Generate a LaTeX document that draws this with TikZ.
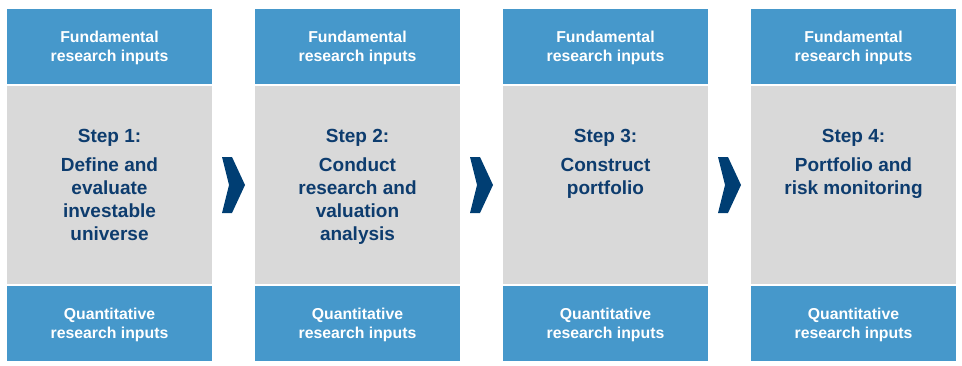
\documentclass[tikz,border=0pt]{standalone}
\usepackage{fontspec}
\setmainfont{Liberation Sans}
\usetikzlibrary{positioning,calc}
\definecolor{inputblue}{HTML}{4698CB}
\definecolor{stepgrey}{HTML}{D9D9D9}
\definecolor{stepnavy}{HTML}{0D3C6E}
\definecolor{chevnavy}{HTML}{003E73}

\begin{document}
\begin{tikzpicture}[x=1pt,y=1pt,
      inbox/.style={fill=inputblue,minimum width=205pt,minimum height=75pt,inner sep=0pt,text depth=0pt,text=white,align=center,font=\fontsize{15.8}{18.5}\selectfont\bfseries},
      stepbox/.style={fill=stepgrey,minimum width=205pt,minimum height=198pt,inner sep=0pt},
      steptitle/.style={anchor=north,inner sep=0pt,text=stepnavy,font=\fontsize{19}{23}\selectfont\bfseries},
      stepbody/.style={anchor=north,inner sep=0pt,text=stepnavy,align=center,font=\fontsize{19}{23}\selectfont\bfseries},
      chevron/.style={fill=chevnavy}]

    \useasboundingbox (0,0) rectangle (962,365);

    % inputs on top
    \node[inbox] (fund1) at (109.5,318.5) {Fundamental\\research inputs};
    \node[inbox] (fund2) at (357.5,318.5) {Fundamental\\research inputs};
    \node[inbox] (fund3) at (605.5,318.5) {Fundamental\\research inputs};
    \node[inbox] (fund4) at (853.5,318.5) {Fundamental\\research inputs};

    % the four steps
    \node[stepbox] (step1) at (109.5,180) {};
    \node[stepbox] (step2) at (357.5,180) {};
    \node[stepbox] (step3) at (605.5,180) {};
    \node[stepbox] (step4) at (853.5,180) {};

    \node[steptitle] (title1) at ($(step1.north)+(0,-43)$) {Step 1:};
    \node[steptitle] (title2) at ($(step2.north)+(0,-43)$) {Step 2:};
    \node[steptitle] (title3) at ($(step3.north)+(0,-43)$) {Step 3:};
    \node[steptitle] (title4) at ($(step4.north)+(0,-43)$) {Step 4:};

    \node[stepbody] (body1) at ($(step1.north)+(0,-72)$) {Define and\\evaluate\\investable\\universe};
    \node[stepbody] (body2) at ($(step2.north)+(0,-72)$) {Conduct\\research and\\valuation\\analysis};
    \node[stepbody] (body3) at ($(step3.north)+(0,-72)$) {Construct\\portfolio};
    \node[stepbody] (body4) at ($(step4.north)+(0,-72)$) {Portfolio and\\risk monitoring};

    % inputs at the bottom
    \node[inbox] (quant1) at (109.5,41.5) {Quantitative\\research inputs};
    \node[inbox] (quant2) at (357.5,41.5) {Quantitative\\research inputs};
    \node[inbox] (quant3) at (605.5,41.5) {Quantitative\\research inputs};
    \node[inbox] (quant4) at (853.5,41.5) {Quantitative\\research inputs};

    % chevrons between steps
    \fill[chevron] ($(step1.east)!0.5!(step2.west)$) ++(-11.5,28) -- ++(10,0) -- ++(13,-28)
      -- ++(-13,-28) -- ++(-10,0) -- ++(7,28) -- cycle;
    \fill[chevron] ($(step2.east)!0.5!(step3.west)$) ++(-11.5,28) -- ++(10,0) -- ++(13,-28)
      -- ++(-13,-28) -- ++(-10,0) -- ++(7,28) -- cycle;
    \fill[chevron] ($(step3.east)!0.5!(step4.west)$) ++(-11.5,28) -- ++(10,0) -- ++(13,-28)
      -- ++(-13,-28) -- ++(-10,0) -- ++(7,28) -- cycle;
  \end{tikzpicture}
\end{document}
